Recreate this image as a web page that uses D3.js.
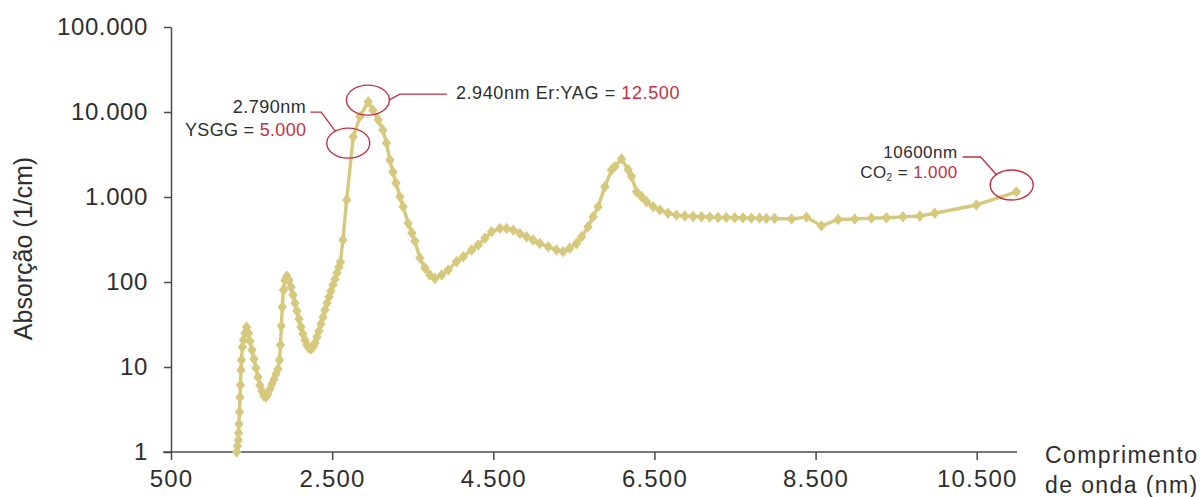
<!DOCTYPE html>
<html>
<head>
<meta charset="utf-8">
<script src="https://cdn.jsdelivr.net/npm/d3@7"></script>
<style>
  html, body { margin: 0; padding: 0; background: #fff; }
  svg { display: block; }
  text { font-family: "Liberation Sans", Arial, Helvetica, sans-serif; }
</style>
</head>
<body>
<svg id="chart" width="1202" height="497"></svg>
<script>
// ---- Data (wavelength in nm, absorption in 1/cm) ----
const wavelengths = [1315,1325,1335,1338,1344,1350,1356,1362,1368,1375,
  1385,1400,1418,1437,1462,1480,1505,1530,1555,1580,
  1604,1629,1654,1679,1704,1728,1753,1778,1803,1828,
  1846,1859,1869,1881,1896,1914,1939,1964,1989,2014,
  2038,2063,2088,2113,2138,2163,2187,2212,2237,2262,
  2287,2311,2336,2361,2386,2411,2436,2460,2485,2510,
  2535,2560,2584,2603,2634,2680,2762,2845,2948,3006,
  3072,3130,3174,3217,3254,3292,3341,3382,3444,3490,
  3527,3589,3651,3713,3775,3859,3940,4045,4127,4231,
  4313,4396,4479,4582,4665,4747,4830,4913,4995,5078,
  5181,5285,5367,5450,5533,5596,5677,5739,5801,5885,
  5968,6009,6092,6174,6216,6278,6340,6402,6484,6567,
  6670,6774,6877,6980,7084,7187,7290,7393,7496,7599,
  7703,7806,7889,7991,8201,8387,8573,8779,8986,9193,
  9379,9585,9793,9979,10496,10992];
const absorption = [1.0,1.18,1.38,1.67,2.13,2.95,4.4,6.1,9.2,12.1,
  17.2,20.7,25,29.5,25,20.2,15.8,12.4,9.7,7.6,
  6.1,5.2,4.55,4.45,4.8,5.5,6.3,7.2,8.3,9.5,
  12.1,18.1,30.4,50.8,80.6,105,117,105,87.4,70.2,
  56.5,45.6,36.7,29.5,24.4,20.7,18.1,16.7,16.3,17.2,
  19.2,22.5,26.4,32,38.6,46.8,56.5,66.6,78.5,92,
  108,128,150,172,312,922,5100,8830,13200,10500,
  8090,6140,4330,2720,1970,1460,1010,770,490,377,
  303,191,146,121,110,121,138,174,198,238,
  272,327,390,427,427,408,373,341,312,284,
  260,238,228,249,284,341,446,584,770,1320,
  2090,2280,2810,2090,1740,1150,1010,880,770,705,
  644,612,597,590,585,580,575,575,570,570,
  565,565,560,560,551,580,457,544,551,564,
  571,584,597,644,806,1150];

const xTicks = [500, 2500, 4500, 6500, 8500, 10500];
const yTicks = [1, 10, 100, 1000, 10000, 100000];
const xTitleLines = ["Comprimento", "de onda (nm)"];
const yTitle = "Absorção (1/cm)";

// Annotations: circled points (nm, absorption) with labels
const annoYSGG = { nm: 2700, v: 4300, line1: "2.790nm", label: "YSGG = ", value: "5.000" };
const annoEr   = { nm: 2944, v: 13800, label: "2.940nm Er:YAG = ", value: "12.500" };
const annoCO2  = { nm: 10934, v: 1384, line1: "10600nm", value: "1.000" };

// ---- Chart ----
const svg = d3.select("#chart");
const x = d3.scaleLinear().domain([500, 11000]).range([171, 1017]);
const y = d3.scaleLog().domain([1, 100000]).range([452, 27]);

const loc = d3.formatLocale({ decimal: ",", thousands: ".", grouping: [3], currency: ["", ""] });
const fmt = loc.format(",d");

const axisColor = "#4a4a4a";
const textColor = "#2e2e2e";
const curveColor = "#d6c87c";
const red = "#c23040";

// Y axis
const gy = svg.append("g").attr("transform", `translate(${x(500)},0)`)
  .call(d3.axisLeft(y).tickValues(yTicks).tickFormat(fmt).tickSize(7).tickSizeOuter(0).tickPadding(16));
gy.select(".domain").attr("stroke", axisColor).attr("stroke-width", 1.5);
gy.selectAll(".tick line").attr("stroke", axisColor).attr("stroke-width", 1.5);
gy.selectAll(".tick text").attr("fill", textColor).style("font-size", "24px")
  .style("font-family", '"Liberation Sans", Arial, sans-serif')
  .attr("letter-spacing", "0.6px");

// X axis
const gx = svg.append("g").attr("transform", `translate(0,${y(1)})`)
  .call(d3.axisBottom(x).tickValues(xTicks).tickFormat(fmt).tickSize(8).tickSizeOuter(0).tickPadding(10));
gx.select(".domain").attr("stroke", axisColor).attr("stroke-width", 1.5)
  .attr("d", `M${x(500) - 8},0H${x(11000)}`);
gx.selectAll(".tick text").attr("fill", textColor).style("font-size", "24px")
  .style("font-family", '"Liberation Sans", Arial, sans-serif')
  .attr("letter-spacing", "1.2px");
gx.selectAll(".tick line").attr("stroke", axisColor).attr("stroke-width", 1.5);

// Axis titles
const xt = svg.append("text").attr("x", x(11000) + 28).attr("y", y(1) + 11)
  .attr("fill", textColor).style("font-size", "23px").attr("letter-spacing", "1.4px");
xt.selectAll("tspan").data(xTitleLines).join("tspan")
  .attr("x", x(11000) + 28).attr("dy", (d, i) => i === 0 ? 0 : 30).text(d => d);

svg.append("text")
  .attr("transform", `translate(32,${(y(1) + y(100000)) / 2 + 9}) rotate(-90)`)
  .attr("text-anchor", "middle").attr("fill", textColor)
  .style("font-size", "25px").text(yTitle);

// Curve
const pts = wavelengths.map((w, i) => [w, absorption[i]]);
svg.append("path").datum(pts)
  .attr("fill", "none").attr("stroke", curveColor).attr("stroke-width", 3.4)
  .attr("stroke-linejoin", "round")
  .attr("d", d3.line().x(d => x(d[0])).y(d => y(d[1])));

const diamond = { draw(ctx) { const w = 4.7, h = 5.7; ctx.moveTo(0, -h); ctx.lineTo(w, 0); ctx.lineTo(0, h); ctx.lineTo(-w, 0); ctx.closePath(); } };
svg.append("g").selectAll("path").data(pts).join("path")
  .attr("transform", d => `translate(${x(d[0])},${y(d[1])})`)
  .attr("d", d3.symbol().type(diamond)())
  .attr("fill", curveColor);

// Annotations
const ann = svg.append("g");
function ellipse(a) {
  ann.append("ellipse").attr("cx", x(a.nm)).attr("cy", y(a.v)).attr("rx", 21.5).attr("ry", 15)
    .attr("fill", "none").attr("stroke", red).attr("stroke-width", 1.4);
}
[annoYSGG, annoEr, annoCO2].forEach(ellipse);

// YSGG
{
  const cx = x(annoYSGG.nm), cy = y(annoYSGG.v);
  ann.append("path").attr("fill", "none").attr("stroke", red).attr("stroke-width", 1.3)
    .attr("d", `M${cx - 38},${cy - 31}H${cx - 27}L${cx - 13},${cy - 12}`);
  ann.append("text").attr("x", cx - 42).attr("y", cy - 30).attr("text-anchor", "end")
    .attr("fill", textColor).style("font-size", "18px").attr("letter-spacing", "0.5px").text(annoYSGG.line1);
  const t = ann.append("text").attr("x", cx - 42).attr("y", cy - 7).attr("text-anchor", "end")
    .style("font-size", "18px").attr("letter-spacing", "0.3px");
  t.append("tspan").attr("fill", textColor).text(annoYSGG.label);
  t.append("tspan").attr("fill", red).text(annoYSGG.value);
}
// Er:YAG
{
  const cx = x(annoEr.nm), cy = y(annoEr.v);
  ann.append("path").attr("fill", "none").attr("stroke", red).attr("stroke-width", 1.3)
    .attr("d", `M${cx + 21},${cy}L${cx + 32},${cy - 6}H${cx + 79}`);
  const t = ann.append("text").attr("x", cx + 88).attr("y", cy - 1)
    .style("font-size", "18px").attr("letter-spacing", "0.6px");
  t.append("tspan").attr("fill", textColor).text(annoEr.label);
  t.append("tspan").attr("fill", red).text(annoEr.value);
}
// CO2
{
  const cx = x(annoCO2.nm), cy = y(annoCO2.v);
  ann.append("path").attr("fill", "none").attr("stroke", red).attr("stroke-width", 1.3)
    .attr("d", `M${cx - 49},${cy - 28}H${cx - 31}L${cx - 15},${cy - 10}`);
  ann.append("text").attr("x", cx - 54).attr("y", cy - 27).attr("text-anchor", "end")
    .attr("fill", textColor).style("font-size", "17px").attr("letter-spacing", "0.5px").text(annoCO2.line1);
  const t = ann.append("text").attr("x", cx - 54).attr("y", cy - 7).attr("text-anchor", "end")
    .style("font-size", "17px").attr("letter-spacing", "0.4px");
  t.append("tspan").attr("fill", textColor).text("CO");
  t.append("tspan").attr("fill", textColor).attr("dy", 3).style("font-size", "10px").text("2");
  t.append("tspan").attr("fill", textColor).attr("dy", -3).text(" = ");
  t.append("tspan").attr("fill", red).text(annoCO2.value);
}
</script>
</body>
</html>
